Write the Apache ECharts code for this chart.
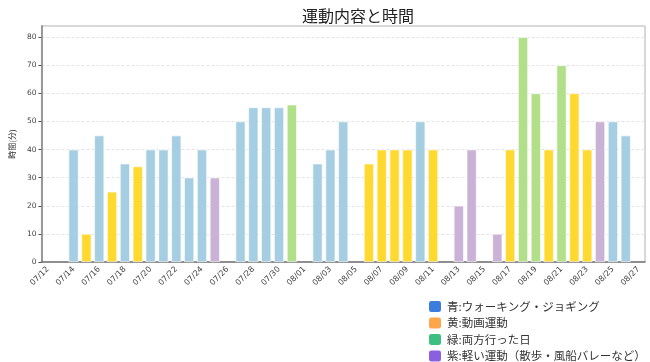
<!DOCTYPE html>
<html><head><meta charset="utf-8">
<script src="https://cdn.jsdelivr.net/npm/echarts@6/dist/echarts.min.js"></script>
<style>html,body{margin:0;padding:0;background:#fff}#c{width:650px;height:362px}</style>
</head><body><div id="c"></div>
<script>
const dates = ["07/12","07/13","07/14","07/15","07/16","07/17","07/18","07/19","07/20","07/21","07/22","07/23","07/24","07/25","07/26","07/27","07/28","07/29","07/30","07/31",
"08/01","08/02","08/03","08/04","08/05","08/06","08/07","08/08","08/09","08/10","08/11","08/12","08/13","08/14","08/15","08/16","08/17","08/18","08/19","08/20","08/21","08/22","08/23","08/24","08/25","08/26","08/27"];
const minutes = [null,null,40,10,45,25,35,34,40,40,45,30,40,30,null,50,55,55,55,56,
null,35,40,50,null,35,40,40,40,50,40,null,20,40,null,10,40,80,60,40,70,60,40,50,50,45,null];
const kinds = [null,null,"B","Y","B","Y","B","Y","B","B","B","B","B","P",null,"B","B","B","B","G",
null,"B","B","B",null,"Y","Y","Y","Y","B","Y",null,"P","P",null,"P","Y","G","G","Y","G","Y","Y","P","B","B",null];
const kindKeys = ["B","Y","G","P"];
const legendNames = ["青:ウォーキング・ジョギング","黄:動画運動","緑:両方行った日","紫:軽い運動（散歩・風船バレーなど）"];
const barColors = ["#a6cee3","#ffd92f","#b2df8a","#cab2d6"];
const legendColors = ["#3b7ddd","#ffa64d","#3dbf82","#8c5fe0"];
const title = "運動内容と時間";
const yName = "時間(分)";

const chart = echarts.init(document.getElementById('c'));
const series = kindKeys.map((k, i) => ({
  name: legendNames[i],
  type: 'bar',
  stack: 'all',
  barWidth: '77%',
  itemStyle: { color: barColors[i], borderColor: '#fff', borderWidth: 0.6 },
  data: minutes.map((v, j) => kinds[j] === k ? v : null)
}));
chart.setOption({
  animation: false,
  title: { text: title, left: 297, top: 3, textStyle: { fontFamily: 'Noto Sans CJK JP', fontSize: 16, fontWeight: 'normal', color: '#222' } },
  grid: { left: 25, right: 5, top: 26, bottom: 100, show: true, borderColor: '#b0b0b0', borderWidth: 1 },
  legend: {
    orient: 'vertical', left: 427, top: 299, width: 223, height: 120, padding: 0,
    itemWidth: 14, itemHeight: 13, itemGap: 1.5,
    icon: 'roundRect',
    textStyle: { fontFamily: 'Noto Sans CJK JP', fontSize: 11.5, lineHeight: 13, color: '#333' },
    data: legendNames.map((n, i) => ({ name: n, itemStyle: { color: legendColors[i] } }))
  },
  xAxis: {
    type: 'category', data: dates, boundaryGap: true,
    axisLine: { lineStyle: { color: '#777', width: 1.5 } },
    axisTick: { alignWithLabel: true, interval: 1, length: 3, lineStyle: { color: '#555' } },
    axisLabel: { interval: 1, rotate: 45, fontSize: 8, color: '#444', fontFamily: 'DejaVu Sans', margin: 6 }
  },
  yAxis: {
    type: 'value', min: 0, max: 84, interval: 10,
    name: yName, nameLocation: 'middle', nameGap: 18, nameRotate: 90,
    nameTextStyle: { fontFamily: 'Noto Sans CJK JP', fontSize: 8, color: '#333' },
    axisLine: { show: true, lineStyle: { color: '#999', width: 2 } },
    axisTick: { show: true, length: 3, lineStyle: { color: '#555' } },
    axisLabel: { fontSize: 7.5, color: '#444', fontFamily: 'DejaVu Sans', margin: 5, showMaxLabel: false,
      formatter: v => (v % 10 === 0 ? String(v) : '') },
    splitLine: { lineStyle: { color: '#ddd', type: [3, 2], width: 0.8 } }
  },
  series: series
});
</script></body></html>
